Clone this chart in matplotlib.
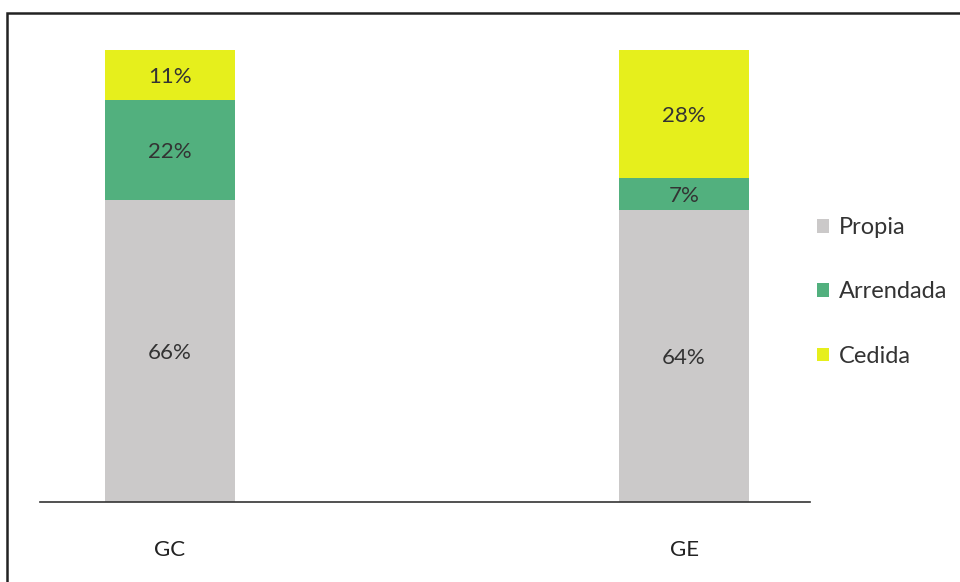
import matplotlib
matplotlib.use("Agg")
import matplotlib.pyplot as plt
from matplotlib.patches import Rectangle

categories = ["GC", "GE"]
series_names = ["Propia", "Arrendada", "Cedida"]
propia = [66, 64]
arrendada = [22, 7]
cedida = [11, 28]
colors = ["#cbc9c9", "#52b07e", "#e6ef1c"]

plt.rcParams['font.family'] = ['Lato', 'DejaVu Sans']

fig = plt.figure(figsize=(9.6, 5.82), dpi=100)
ax = fig.add_axes([40/960, 80/582, 770/960, 457/582])

x = list(range(len(categories)))
bottom = [0, 0]
for vals, name, col in zip([propia, arrendada, cedida], series_names, colors):
    bars = ax.bar(x, vals, width=0.253, bottom=bottom, color=col, label=name)
    for xi, v, b in zip(x, vals, bottom):
        ax.text(xi, b + v / 2, f"{v}%", ha="center", va="center_baseline",
                fontsize=16, color="#333333")
    bottom = [b + v for b, v in zip(bottom, vals)]

ax.set_xlim(-0.253, 1.245)
ax.set_ylim(0, 100)
ax.set_xticks(x)
ax.set_xticklabels(categories, fontsize=16, color="#222222")
ax.tick_params(axis="x", length=0, pad=27)
ax.set_yticks([])
for s in ["top", "right", "left"]:
    ax.spines[s].set_visible(False)
ax.spines["bottom"].set_color("#333333")
ax.spines["bottom"].set_linewidth(1.2)

leg = fig.legend(loc="upper left", bbox_to_anchor=(796/960, 1 - 196/582),
                 frameon=False, fontsize=17, handlelength=0.5, handleheight=0.5,
                 handletextpad=0.42, labelspacing=1.83, labelcolor="#333333")

fig.patches.append(Rectangle((7/960, -0.1), 1.2, 1 - 13/582 + 0.1,
                             transform=fig.transFigure, fill=False,
                             edgecolor="#222222", linewidth=1.8))

fig.savefig("out.png", dpi=100)
